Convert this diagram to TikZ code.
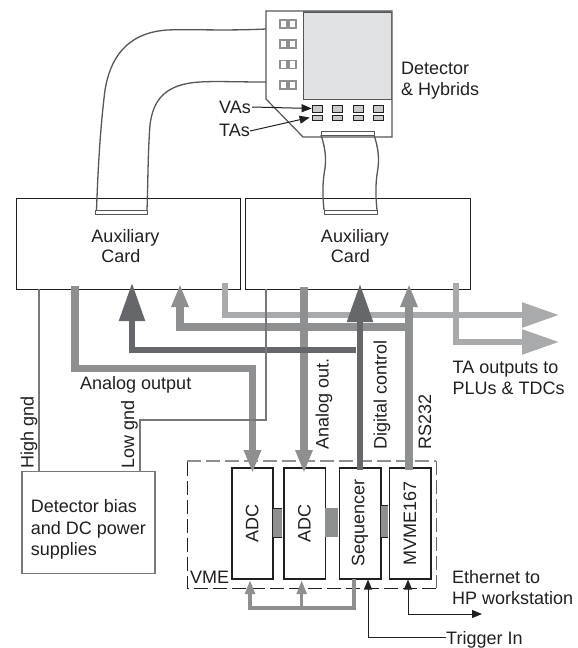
\documentclass[tikz,border=0pt]{standalone}
\usepackage{fontspec}
\setmainfont{Liberation Sans}
\usetikzlibrary{arrows.meta}
\definecolor{lightbus}{HTML}{A9AAAC}
\definecolor{midbus}{HTML}{8E8F91}
\definecolor{darkbus}{HTML}{66676A}
\definecolor{linegray}{HTML}{55565A}
\definecolor{gndgray}{HTML}{77787B}
\definecolor{chipfill}{HTML}{C9CACC}
\definecolor{detfill}{HTML}{E0E1E2}
\definecolor{inkblack}{HTML}{231F20}
\tikzset{
  lab/.style={font=\fontsize{18}{21.2}\selectfont,text=inkblack,inner sep=0pt,align=left},
  rotlab/.style={lab,rotate=90,anchor=west},
  box/.style={draw=inkblack,line width=1pt,fill=white,inner sep=0pt,anchor=north west},
  module/.style={draw=inkblack,line width=1.5pt,fill=white,inner sep=0pt,anchor=north west},
  pad/.style={draw=midbus,line width=1.3pt,fill=white,minimum width=7pt,minimum height=8pt,inner sep=0pt},
  chip/.style={draw=inkblack,line width=.8pt,fill=chipfill,minimum width=10pt,inner sep=0pt},
  cable/.style={draw=linegray,line width=1.3pt},
  cableend/.style={draw=linegray,line width=1.1pt,fill=white},
  link/.style={fill=midbus,draw=none},
  busL/.style={draw=lightbus,line width=5.5pt},
  busM/.style={draw=midbus,line width=7.5pt},
  busD/.style={draw=darkbus,line width=5.5pt},
  gnd/.style={draw=gndgray,line width=2.3pt},
  fine/.style={draw=inkblack,line width=1pt},
  blackarrow/.style={fine,-{Triangle[length=10pt,width=8pt]}},
  tipTA/.style={-{Triangle[length=37pt,width=24pt]}},
  tipBigM/.style={-{Triangle[length=23pt,width=16pt]}},
  tipBigD/.style={-{Triangle[length=38pt,width=25pt]}},
  smallgrey/.style={draw=midbus,line width=3.5pt},
  tipSmall/.style={-{Triangle[length=14pt,width=9.5pt]}},
}
\begin{document}
\begin{tikzpicture}[x=1pt,y=-1pt]
\useasboundingbox (0,0) rectangle (578,648);
% aux cards
\node[box,minimum width=224.5pt,minimum height=91pt] (aux1) at (15.5,198) {};
\node[box,minimum width=225pt,minimum height=91pt] (aux2) at (244.5,198) {};
\node[lab] at (125.5,237.5) {Auxiliary};
\node[lab] at (121,256.5) {Card};
\node[lab] at (355,237.5) {Auxiliary};
\node[lab] at (350.5,256.5) {Card};
% cables (left)
\draw[cable] (266,29) .. controls (225,31) and (190,29) .. (167,30) .. controls (125,33) and (110,60) .. (105,90) .. controls (100,130) and (98,170) .. (96.5,210);
\draw[cable] (266,82) .. controls (235,82) and (215,81) .. (200,82) .. controls (165,84) and (153,100) .. (150,125) .. controls (148,150) and (148,180) .. (147,210);
% board
\draw[draw=linegray,line width=1.2pt,fill=white] (266,11) -- (392,11) -- (392,137) -- (303,137) -- (266,99) -- cycle;
\node[draw=linegray,line width=1.2pt,fill=detfill,minimum width=88pt,minimum height=87.5pt,inner sep=0pt,anchor=north west] (det) at (303,11.5) {};
\draw[draw=darkbus,line width=1.6pt] (303,11.5) -- (391.5,11.5) -- (391.5,99);
\foreach \i/\y in {a/24,b/44,c/64.5,d/85}{
  \node[pad] (pl\i) at (283.5,\y) {};
  \node[pad] (pr\i) at (292.5,\y) {};
}
\foreach \i/\x in {a/317,b/337.5,c/358,d/378}{
  \node[chip,minimum height=7pt] (va\i) at (\x,108.5) {};
  \node[chip,minimum height=5pt] (ta\i) at (\x,117.5) {};
}
% cables (right)
\draw[cable] (321,135) .. controls (326,150) and (326,160) .. (325,168) .. controls (323,180) and (322,190) .. (324,210);
\draw[cable] (374,135) .. controls (379,150) and (379,160) .. (378,168) .. controls (376,180) and (375,190) .. (377,210);
\node[cableend,minimum width=52pt,minimum height=4pt,inner sep=0pt,anchor=north west] (c1) at (95,210) {};
\node[cableend,minimum width=53pt,minimum height=4pt,inner sep=0pt,anchor=north west] (c2) at (324,210) {};
\node[cableend,minimum width=53pt,minimum height=4pt,inner sep=0pt,anchor=north west] (c3) at (321,131) {};
% labels top
\node[lab,anchor=west] (vas) at (219,107) {VAs};
\node[lab,anchor=west] (tas) at (219,130) {TAs};
\node[lab,anchor=north west] at (401,62) {Detector\\\& Hybrids};
\draw[blackarrow] (vas.east)+(1,0) -- (vaa.west);
\draw[blackarrow] (tas.east)+(0,1) -- ([xshift=-2pt]taa.west);
% VME
\node[module,minimum width=41pt,minimum height=111pt] (adc1) at (231,467) {};
\node[module,minimum width=41.5pt,minimum height=111pt] (adc2) at (283,467) {};
\node[module,minimum width=41.5pt,minimum height=111pt] (seq) at (338.5,467) {};
\node[module,minimum width=41.5pt,minimum height=111pt] (mvme) at (388.5,467) {};
\node[lab,rotate=90] at (adc1.center) {ADC};
\node[lab,rotate=90] at (adc2.center) {ADC};
\node[lab,rotate=90] at (seq.center) {Sequencer};
\node[lab,rotate=90] at (mvme.center) {MVME167};
\fill[link] (272.7,508.5) rectangle (282.3,537);
\fill[link] (325.2,507.5) rectangle (337.8,537);
\fill[link] (380.7,505.5) rectangle (387.8,537);
\draw[inkblack,line width=.8pt] (380.7,505.5) -- (387.8,505.5) (380.7,537) -- (387.8,537) (272.7,508.5) -- (282.3,508.5) (272.7,537) -- (282.3,537);
\draw[draw=darkbus,line width=.9pt,dash pattern=on 14pt off 5pt] (436,461) -- (436,588);
\draw[draw=inkblack,line width=.9pt,dash pattern=on 14pt off 5pt] (436,588) -- (187,588) -- (187,461);
\draw[draw=midbus,line width=1.1pt,dash pattern=on 14pt off 5pt] (187,461) -- (436,461);
\node[lab,anchor=west] at (190,577) {VME};
% buses: light
\coordinate (ta1s) at (225,283); \coordinate (ta1c) at (225,315); \coordinate (ta1e) at (559,315);
\coordinate (ta2s) at (456,283); \coordinate (ta2c) at (456,342); \coordinate (ta2e) at (559,342);
\draw[busL,tipTA,line join=miter] (ta1s) -- (ta1c) -- (ta1e);
\draw[busL,tipTA,line join=miter] (ta2s) -- (ta2c) -- (ta2e);
% buses: medium
\coordinate (rsb) at (409,470); \coordinate (rst) at (409,284);
\coordinate (mc) at (409,327); \coordinate (mh) at (180,327); \coordinate (mt) at (180,284);
\draw[busM,tipBigM] (rsb) -- (rst);
\draw[busM,tipBigM] (mc) ++(3.75,0) -- (mh) -- (mt);
% analog
\coordinate (ao1) at (75,286); \coordinate (ao2) at (75,368.5); \coordinate (ao3) at (252.5,368.5); \coordinate (ao4) at (252.5,473);
\draw[busM,tipBigM] (ao1) -- (ao2) -- (ao3) -- (ao4);
\draw[busM,tipBigM] (304,287) -- (304,473);
% dark
\coordinate (dcb) at (360,470); \coordinate (dct) at (360,284);
\draw[busD,tipBigD] (dcb) -- (dct);
\coordinate (de) at (356,350); \coordinate (dc) at (132,350); \coordinate (dt) at (132,283);
\draw[busD,tipBigD] (de) -- (dc) -- (dt);
% ground lines and bias box
\node[draw=gndgray,line width=1.7pt,fill=white,inner sep=0pt,anchor=north west,minimum width=133pt,minimum height=102pt] (bias) at (21,470.7) {};
\node[lab,anchor=north west] at (30.7,499.7) {Detector bias\\and DC power\\supplies};
\draw[gnd] (39,289) -- (39,470.7);
\draw[gnd] (266,289) -- (266,420) -- (139.7,420) -- (139.7,470.7);
% rotated labels
\node[rotlab] at (29,469) {High gnd};
\node[rotlab] at (129.5,469) {Low gnd};
\node[rotlab] at (324,450) {Analog out.};
\node[rotlab] at (382,450) {Digital control};
\node[rotlab] at (425,450) {RS232};
\node[lab,anchor=west] at (80,384.7) {Analog output};
\node[lab,anchor=north west] at (452.5,361) {TA outputs to\\PLUs \& TDCs};
% bottom
\coordinate (sqb) at (354,579); \coordinate (sqc) at (354,608); \coordinate (sql) at (250,608);
\draw[smallgrey,tipSmall] (sqb) -- (sqc) -- (sql) -- (250,580);
\draw[smallgrey,tipSmall] (301.7,608) -- (301.7,580);
\coordinate (trig) at (368,579.5); \coordinate (trc) at (368,637.5);
\node[lab,anchor=west] (trigin) at (446,639.4) {Trigger In};
\draw[blackarrow] (trigin.west |- trc) -- (trc) -- (trig);
\coordinate (et1) at (408,579.5); \coordinate (etc) at (408,614); \coordinate (ete) at (482,614);
\draw[fine,{Triangle[length=10pt,width=8pt]}-{Triangle[length=10pt,width=8pt]}] (et1) -- (etc) -- (ete);
\node[lab,anchor=north west] at (452,570) {Ethernet to\\HP workstation};
\end{tikzpicture}
\end{document}
